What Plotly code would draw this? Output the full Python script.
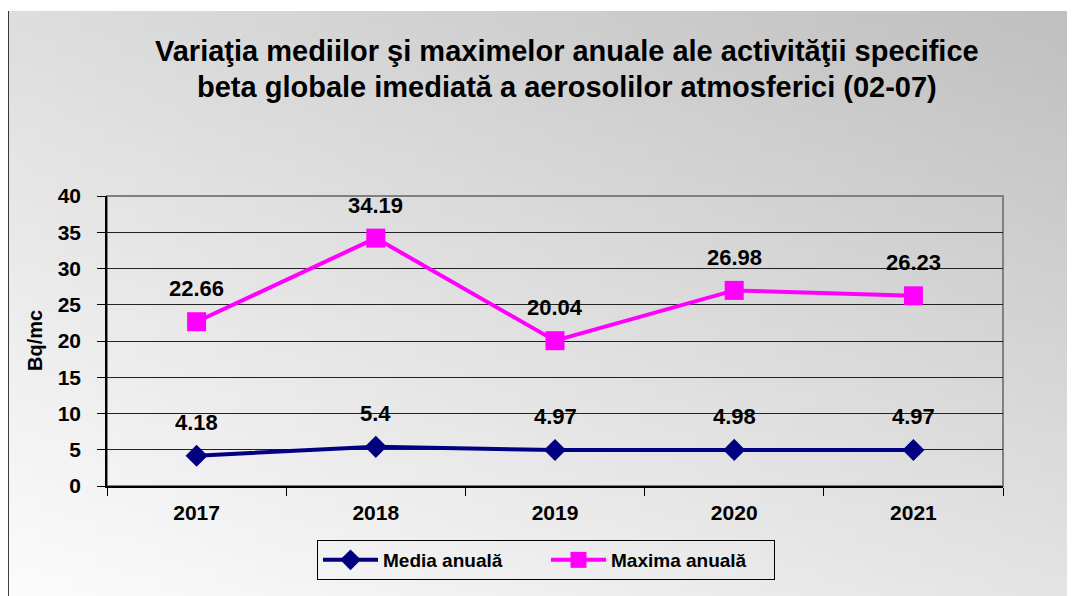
import base64, struct, zlib
import numpy as np
import plotly.graph_objects as go

years = ["2017", "2018", "2019", "2020", "2021"]
media = [4.18, 5.4, 4.97, 4.98, 4.97]
maxima = [22.66, 34.19, 20.04, 26.98, 26.23]
media_labels = ["4.18", "5.4", "4.97", "4.98", "4.97"]
maxima_labels = ["22.66", "34.19", "20.04", "26.98", "26.23"]
y_ticks = [0, 5, 10, 15, 20, 25, 30, 35, 40]

title_line1 = "Variaţia mediilor şi maximelor anuale ale activităţii specifice"
title_line2 = "beta globale imediată a aerosolilor atmosferici (02-07)"
y_title = "Bq/mc"

FONT = "Liberation Sans, Arial, sans-serif"


def gradient_png(w=80, h=48):
    tl, tr, bl, br = 222.0, 192.0, 252.0, 228.0
    u = np.linspace(0, 1, w)[None, :]
    v = np.linspace(0, 1, h)[:, None]
    g = (tl * (1 - u) * (1 - v) + tr * u * (1 - v) + bl * (1 - u) * v + br * u * v)
    g = g.astype(np.uint8)
    rgb = np.stack([g, g, g], axis=-1)
    raw = b"".join(b"\x00" + rgb[r].tobytes() for r in range(h))

    def chunk(t, d):
        c = struct.pack(">I", len(d)) + t + d
        return c + struct.pack(">I", zlib.crc32(t + d) & 0xFFFFFFFF)

    png = b"\x89PNG\r\n\x1a\n" + chunk(b"IHDR", struct.pack(">IIBBBBB", w, h, 8, 2, 0, 0, 0))
    png += chunk(b"IDAT", zlib.compress(raw, 9)) + chunk(b"IEND", b"")
    return "data:image/png;base64," + base64.b64encode(png).decode()


OFF = 8  # page body margin
W, H = 1075 - OFF, 596 - OFF
L, R, T, B = 99, 72, 188, 110
pw, ph = W - L - R, H - T - B


def px(xs):
    return (xs - OFF - L) / pw


def py(ys):
    return (H - B - (ys - OFF)) / ph


fig = go.Figure()
fig.add_trace(go.Scatter(
    x=years, y=media, name="Media anuală", mode="lines+markers",
    line=dict(color="#000080", width=4),
    marker=dict(symbol="diamond", size=17, color="#000080"),
))
fig.add_trace(go.Scatter(
    x=years, y=maxima, name="Maxima anuală", mode="lines+markers",
    line=dict(color="#FF00FF", width=4),
    marker=dict(symbol="square", size=19, color="#FF00FF"),
))

annotations = []
for ys, labs in [(media, media_labels), (maxima, maxima_labels)]:
    for i, (yv, lab) in enumerate(zip(ys, labs)):
        annotations.append(dict(
            x=i, y=yv, xref="x", yref="y", text=lab, showarrow=False,
            yshift=33, yanchor="middle",
            font=dict(family=FONT, size=22, color="black", weight="bold"),
        ))

annotations.append(dict(
    x=px(567), y=py(51), xref="paper", yref="paper", text=title_line1,
    showarrow=False, xanchor="center", yanchor="middle",
    font=dict(family=FONT, size=29, color="black", weight="bold"),
))
annotations.append(dict(
    x=px(567), y=py(87), xref="paper", yref="paper", text=title_line2,
    showarrow=False, xanchor="center", yanchor="middle",
    font=dict(family=FONT, size=29, color="black", weight="bold"),
))
annotations.append(dict(
    x=px(35), y=py(341), xref="paper", yref="paper", text=y_title,
    showarrow=False, xanchor="center", yanchor="middle", textangle=-90,
    font=dict(family=FONT, size=20, color="black", weight="bold"),
))

fig.update_layout(
    width=W, height=H,
    margin=dict(l=L, r=R, t=T, b=B),
    paper_bgcolor="white",
    plot_bgcolor="white",
    showlegend=True,
    legend=dict(
        orientation="h", x=px(546), y=py(560), xanchor="center", yanchor="middle",
        bgcolor="rgba(0,0,0,0)", bordercolor="black", borderwidth=1,
        font=dict(family=FONT, size=19, color="black", weight="bold"),
        itemwidth=55, entrywidth=158, entrywidthmode="pixels",
    ),
    annotations=annotations,
    images=[dict(
        source=gradient_png(), xref="paper", yref="paper",
        x=px(8), y=py(11), sizex=px(1075) - px(8), sizey=py(11) - py(596),
        xanchor="left", yanchor="top", sizing="stretch", layer="below",
    )],
    shapes=[
        dict(type="line", xref="paper", yref="paper", x0=px(8), x1=px(8),
             y0=py(596), y1=py(11), line=dict(color="black", width=1.5)),
        dict(type="rect", xref="paper", yref="paper", x0=0, x1=1, y0=0, y1=1,
             line=dict(color="#808080", width=2), layer="below"),
    ],
    xaxis=dict(
        type="category", categoryorder="array", categoryarray=years,
        tickson="boundaries", ticks="outside", ticklen=8, tickcolor="black",
        ticklabelstandoff=7,
        showgrid=False, showline=True, linecolor="black", linewidth=1.5,
        tickfont=dict(family=FONT, size=21, color="black", weight="bold"),
        zeroline=False, range=[-0.5, 4.5],
    ),
    yaxis=dict(
        range=[0, 40], tickvals=y_ticks, ticktext=[str(t) for t in y_ticks],
        ticks="outside", ticklen=8, tickcolor="black", ticklabelstandoff=12,
        showgrid=True, gridcolor="#222222", gridwidth=1,
        showline=True, linecolor="black", linewidth=1.5, zeroline=False,
        tickfont=dict(family=FONT, size=21, color="black", weight="bold"),
    ),
)

fig.write_html("out.html")
